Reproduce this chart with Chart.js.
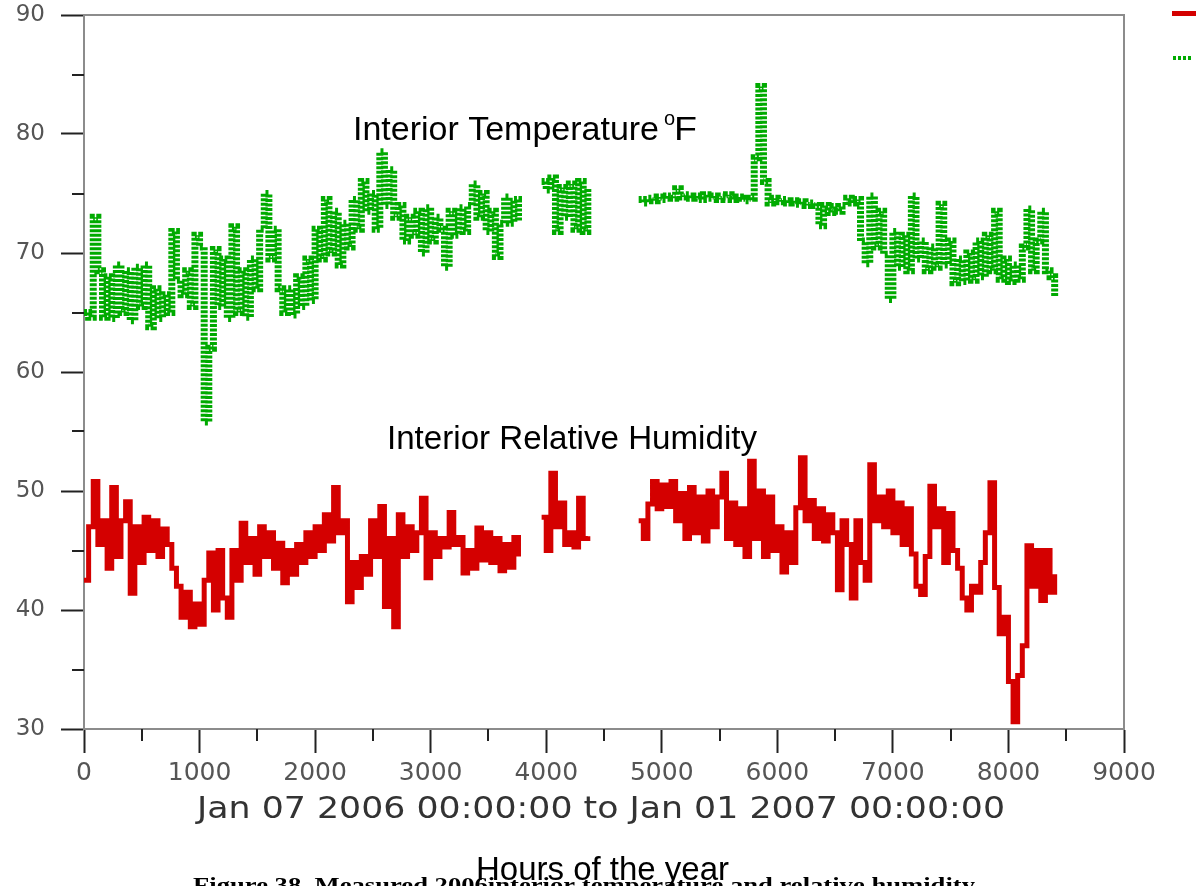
<!DOCTYPE html>
<html>
<head>
<meta charset="utf-8">
<script src="https://cdn.jsdelivr.net/npm/chart.js@4.4.1/dist/chart.umd.min.js"></script>
<style>
  html, body { margin: 0; padding: 0; background: #fff; }
  #wrap { width: 1200px; height: 886px; position: relative; }
</style>
</head>
<body>
<div id="wrap"><canvas id="myChart" width="1200" height="886"></canvas></div>
<script>
// hours of the year (sample positions)
const hours = [
  0,40,80,120,160,200,240,280,320,360,
  400,440,480,520,560,600,640,680,720,760,
  800,840,880,920,960,1000,1040,1080,1120,1160,
  1200,1240,1280,1320,1360,1400,1440,1480,1520,1560,
  1600,1640,1680,1720,1760,1800,1840,1880,1920,1960,
  2000,2040,2080,2120,2160,2200,2240,2280,2320,2360,
  2400,2440,2480,2520,2560,2600,2640,2680,2720,2760,
  2800,2840,2880,2920,2960,3000,3040,3080,3120,3160,
  3200,3240,3280,3320,3360,3400,3440,3480,3520,3560,
  3600,3640,3680,3720,3760,3800,3840,3880,3920,3960,
  4000,4040,4080,4120,4160,4200,4240,4280,4320,4360,
  4400,4440,4480,4520,4560,4600,4640,4680,4720,4760,
  4800,4840,4880,4920,4960,5000,5040,5080,5120,5160,
  5200,5240,5280,5320,5360,5400,5440,5480,5520,5560,
  5600,5640,5680,5720,5760,5800,5840,5880,5920,5960,
  6000,6040,6080,6120,6160,6200,6240,6280,6320,6360,
  6400,6440,6480,6520,6560,6600,6640,6680,6720,6760,
  6800,6840,6880,6920,6960,7000,7040,7080,7120,7160,
  7200,7240,7280,7320,7360,7400,7440,7480,7520,7560,
  7600,7640,7680,7720,7760,7800,7840,7880,7920,7960,
  8000,8040,8080,8120,8160,8200,8240,8280,8320,8360,
  8400
];

// interior temperature, deg F (null = no data)
const temperature = [
  65.0,64.6,73.0,68.5,64.6,68.0,64.5,69.0,65.0,68.5,
  64.3,68.8,65.5,69.0,63.8,67.0,64.5,66.5,65.0,71.8,
  67.7,66.5,68.5,65.5,71.5,70.5,55.8,62.0,70.3,65.5,
  69.5,64.5,72.2,65.0,68.5,64.6,69.5,67.0,72.0,75.0,
  69.5,72.0,67.0,65.0,67.0,64.8,68.0,65.5,69.5,66.0,
  72.0,69.5,74.5,70.0,73.5,69.0,72.5,70.5,74.5,72.0,
  76.0,73.5,75.0,72.0,78.5,74.0,77.0,73.0,74.0,71.0,
  73.0,71.5,73.5,70.0,73.8,71.0,73.0,72.0,68.8,73.5,
  71.5,73.8,71.8,74.0,75.8,73.0,75.0,71.8,73.5,69.7,
  72.5,74.7,72.5,74.5,72.6,null,null,null,null,76.0,
  75.3,76.3,71.8,75.5,73.0,75.8,72.0,76.0,71.8,75.5,
  null,null,null,null,null,null,null,null,null,null,
  74.5,74.2,74.6,74.4,74.7,74.5,74.8,74.6,75.4,74.7,
  74.9,74.6,74.8,74.5,74.9,74.6,74.8,74.5,74.7,74.9,
  74.5,74.7,74.6,74.4,74.6,78.0,84.0,76.0,74.2,74.6,
  74.3,74.5,74.2,74.4,74.1,74.3,74.0,74.2,74.0,72.3,
  74.0,73.4,73.9,73.5,74.0,74.6,74.2,74.5,71.0,69.1,
  74.8,70.5,73.5,69.9,66.1,71.8,68.8,71.5,68.5,74.8,
  69.5,71.0,68.5,70.5,68.8,74.1,69.0,71.0,67.5,69.5,
  67.6,70.0,67.7,71.0,68.0,71.5,68.5,73.5,67.8,69.5,
  67.6,69.0,67.8,70.5,73.7,68.5,71.0,73.5,68.5,68.0,
  66.3
];

// interior relative humidity, % (null = no data)
const humidity = [
  42.5,47.0,50.8,45.5,47.5,43.5,50.3,44.5,47.5,49.1,
  41.4,47.0,44.0,47.8,45.0,47.5,44.5,46.8,45.5,43.5,
  42.0,39.4,41.5,38.6,40.5,38.8,42.5,44.8,40.0,45.0,
  41.0,39.4,45.0,42.5,47.3,44.0,46.0,43.0,47.0,44.5,
  46.5,43.5,45.6,42.3,45.0,43.0,45.5,44.0,46.5,44.5,
  47.0,45.0,48.0,45.8,50.3,46.5,47.5,40.7,44.0,41.9,
  44.5,43.0,47.5,44.5,48.7,40.3,46.0,38.6,48.0,44.5,
  47.0,45.0,46.5,49.4,42.7,46.5,44.5,46.0,45.3,48.2,
  45.5,46.1,43.1,45.0,43.5,46.9,44.2,46.5,44.0,46.0,
  43.3,45.5,43.6,46.1,44.5,null,null,null,null,47.8,
  45.0,51.5,47.0,49.0,45.5,46.5,45.3,49.4,46.0,46.2,
  null,null,null,null,null,null,null,null,null,null,
  47.5,46.0,48.9,50.8,48.5,50.5,48.7,50.8,47.5,49.8,
  46.0,50.3,46.5,49.5,45.8,50.0,47.0,49.5,51.5,46.0,
  49.0,45.5,48.5,44.5,52.5,46.0,50.0,44.5,49.5,45.0,
  47.0,43.2,46.5,44.0,48.6,52.8,47.5,49.2,46.0,48.5,
  45.8,48.0,46.5,41.7,47.5,45.5,41.0,47.5,44.0,42.5,
  52.2,47.5,49.5,47.0,50.0,46.5,49.0,45.5,48.5,44.7,
  42.0,41.3,44.5,50.4,47.0,48.5,44.0,48.1,45.0,43.5,
  41.0,40.0,42.0,41.5,44.0,46.5,50.7,41.9,38.0,39.4,
  34.0,30.6,34.5,37.0,45.4,42.0,45.0,40.8,45.0,41.5,
  43.0
];

const xTicks = [0,1000,2000,3000,4000,5000,6000,7000,8000,9000];
const xMinorTicks = [500,1500,2500,3500,4500,5500,6500,7500,8500];
const yTicks = [30,40,50,60,70,80,90];
const yMinorTicks = [35,45,55,65,75,85];

const dateRange = 'Jan 07 2006 00:00:00 to Jan 01 2007 00:00:00';
const xLabel = 'Hours of the year';
const caption = 'Figure 38. Measured 2006interior temperature and relative humidity';

// draw text squeezed/stretched to a given width
function fitText(ctx, text, x, y, w) {
  const m = ctx.measureText(text).width;
  ctx.save();
  ctx.translate(x, y);
  ctx.scale(w / m, 1);
  ctx.fillText(text, 0, 0);
  ctx.restore();
}

const decor = {
  id: 'decor',
  afterDraw(chart) {
    const {ctx, chartArea: a, scales: {x, y}} = chart;
    ctx.save();
    // frame top and right
    ctx.strokeStyle = '#8c8c8c';
    ctx.lineWidth = 2;
    ctx.beginPath();
    ctx.moveTo(a.left, a.top);
    ctx.lineTo(a.right, a.top);
    ctx.lineTo(a.right, a.bottom);
    ctx.stroke();

    // minor ticks
    ctx.strokeStyle = '#222';
    ctx.lineWidth = 2;
    ctx.beginPath();
    xMinorTicks.forEach(v => {
      const px = Math.round(x.getPixelForValue(v));
      ctx.moveTo(px, a.bottom);
      ctx.lineTo(px, a.bottom + 12);
    });
    yMinorTicks.forEach(v => {
      const py = Math.round(y.getPixelForValue(v));
      ctx.moveTo(a.left - 12, py);
      ctx.lineTo(a.left, py);
    });
    ctx.stroke();

    // legend markers (labels cut off at the right edge)
    ctx.fillStyle = '#d40000';
    ctx.fillRect(1172, 11, 24, 5);
    ctx.fillStyle = '#00aa00';
    [1173, 1178, 1183, 1188].forEach(lx => ctx.fillRect(lx, 56, 3, 4));

    // date range under the tick labels
    ctx.fillStyle = '#333';
    ctx.textBaseline = 'alphabetic';
    ctx.font = '31px "DejaVu Sans", sans-serif';
    fitText(ctx, dateRange, 197, 818, 808);

    // series labels
    ctx.fillStyle = '#000';
    ctx.font = '33px "Liberation Sans", Arial, sans-serif';
    fitText(ctx, 'Interior Temperature', 353, 140, 306);
    ctx.font = '20px "Liberation Sans", Arial, sans-serif';
    ctx.fillText('o', 664, 125);
    ctx.font = '33px "Liberation Sans", Arial, sans-serif';
    fitText(ctx, 'F', 674, 140, 23);
    fitText(ctx, 'Interior Relative Humidity', 387, 449, 370);

    // caption (cut by the bottom edge) and axis label over it
    ctx.font = 'bold 21px "Liberation Serif", "Times New Roman", serif';
    fitText(ctx, caption, 193, 892, 782);
    ctx.font = '33px "Liberation Sans", Arial, sans-serif';
    fitText(ctx, xLabel, 476, 880, 253);
    ctx.restore();
  }
};

const canvas = document.getElementById('myChart');
const ctx = canvas.getContext('2d');

new Chart(ctx, {
  type: 'line',
  data: {
    datasets: [
      {
        label: 'Interior Relative Humidity',
        data: hours.map((h, i) => ({x: h, y: humidity[i]})),
        borderColor: '#d40000',
        borderWidth: 5,
        stepped: true,
        pointRadius: 0,
        spanGaps: false,
        fill: false
      },
      {
        label: 'Interior Temperature',
        data: hours.map((h, i) => ({x: h, y: temperature[i]})),
        borderColor: '#00aa00',
        borderWidth: 7,
        borderDash: [3, 1.5],
        borderCapStyle: 'butt',
        stepped: true,
        pointRadius: 0,
        spanGaps: false,
        fill: false
      }
    ]
  },
  options: {
    responsive: false,
    animation: false,
    layout: { padding: { left: 0, top: 15, right: 76, bottom: 0 } },
    plugins: {
      legend: { display: false },
      tooltip: { enabled: false }
    },
    scales: {
      x: {
        type: 'linear',
        min: 0,
        max: 9000,
        afterBuildTicks: s => { s.ticks = xTicks.map(v => ({value: v})); },
        afterFit: s => { s.height = 157; s.paddingLeft = 0; s.paddingRight = 0; },
        grid: { drawOnChartArea: false, drawTicks: true, tickLength: 24, tickColor: '#222', tickWidth: 2 },
        border: { display: true, color: '#8c8c8c', width: 2 },
        ticks: {
          color: '#555',
          padding: 5,
          maxRotation: 0,
          autoSkip: false,
          callback: v => String(v),
          font: { family: '"DejaVu Sans", sans-serif', size: 25 }
        }
      },
      y: {
        min: 30,
        max: 90,
        afterBuildTicks: s => { s.ticks = yTicks.map(v => ({value: v})); },
        afterFit: s => { s.width = 84; s.paddingTop = 0; s.paddingBottom = 0; },
        grid: { drawOnChartArea: false, drawTicks: true, tickLength: 23, tickColor: '#222', tickWidth: 2 },
        border: { display: true, color: '#8c8c8c', width: 2 },
        ticks: {
          color: '#555',
          padding: 16,
          callback: v => String(v),
          font: { family: '"DejaVu Sans", sans-serif', size: 23 }
        }
      }
    }
  },
  plugins: [decor]
});
</script>
</body>
</html>
